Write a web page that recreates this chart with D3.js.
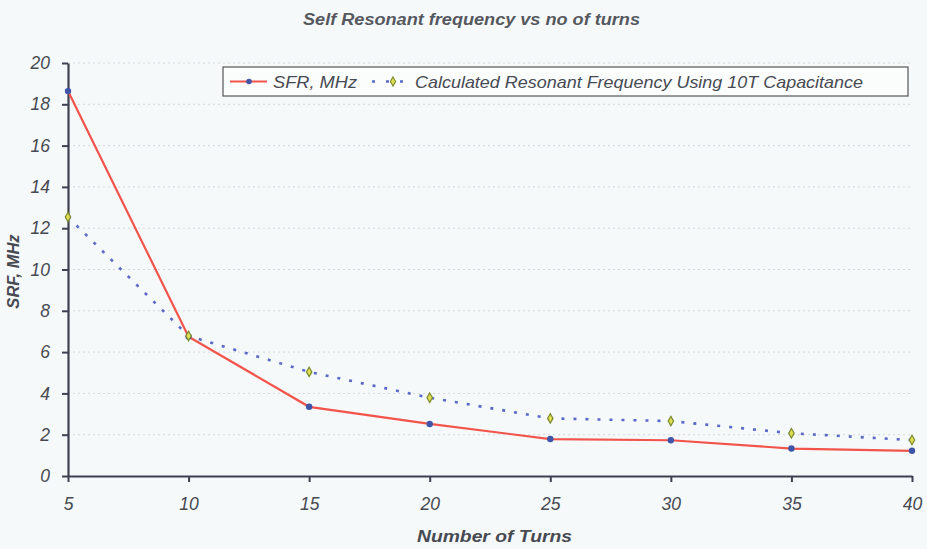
<!DOCTYPE html>
<html><head><meta charset="utf-8">
<script src="https://cdn.jsdelivr.net/npm/d3@7"></script>
<style>
body{margin:0;background:#f6f9fa;}
svg{display:block;font-family:"Liberation Sans",Arial,sans-serif;}
</style></head>
<body><svg id="c" width="927" height="549"></svg>
<script>
const turns = [5, 10, 15, 20, 25, 30, 35, 40];
const sfr = [18.64, 6.75, 3.35, 2.52, 1.79, 1.73, 1.33, 1.22];
const calc = [12.54, 6.78, 5.04, 3.79, 2.79, 2.66, 2.07, 1.74];
const yTicks = [0, 2, 4, 6, 8, 10, 12, 14, 16, 18, 20];
const xTicks = [5, 10, 15, 20, 25, 30, 35, 40];
const seriesNames = ["SFR, MHz", "Calculated Resonant Frequency Using 10T Capacitance"];

const svg = d3.select("#c");
const m = {l: 68, r: 15, t: 63, b: 73};
const W = 927, H = 549;
const x = d3.scaleLinear().domain([5, 40]).range([m.l, W - m.r]);
const y = d3.scaleLinear().domain([0, 20]).range([H - m.b, m.t]);
const ink = "#474a52";

svg.append("rect").attr("width", W).attr("height", H).attr("fill", "#f6f9fa");

// gridlines
svg.append("g").selectAll("line").data(yTicks.filter(d => d > 0)).join("line")
  .attr("x1", m.l).attr("x2", W - m.r).attr("y1", d => y(d)).attr("y2", d => y(d))
  .attr("stroke", "#d3d7db").attr("stroke-width", 1).attr("stroke-dasharray", "2,3");

// axes
const ya = svg.append("g").attr("transform", `translate(${m.l},0)`)
  .call(d3.axisLeft(y).tickValues(yTicks).tickSize(6).tickSizeOuter(0).tickPadding(12));
const xa = svg.append("g").attr("transform", `translate(0,${H - m.b})`)
  .call(d3.axisBottom(x).tickValues(xTicks).tickSize(6).tickSizeOuter(0).tickPadding(12));
[ya, xa].forEach(a => {
  a.select(".domain").attr("stroke", "#3d4150").attr("stroke-width", 2.2);
  a.selectAll(".tick line").attr("stroke", "#3d4150").attr("stroke-width", 2);
  a.selectAll("text").attr("font-size", 17.5).attr("font-style", "italic")
    .attr("fill", ink).attr("font-family", "Liberation Sans, Arial, sans-serif");
});
xa.selectAll("text").attr("dy", "0.9em");

// lines
const line = d3.line().x((d, i) => x(turns[i])).y(d => y(d));
svg.append("path").datum(calc).attr("d", line).attr("fill", "none")
  .attr("stroke", "#5a68c8").attr("stroke-width", 2.6).attr("stroke-dasharray", "3,9");
svg.append("path").datum(sfr).attr("d", line).attr("fill", "none")
  .attr("stroke", "#f2544c").attr("stroke-width", 2.2);

svg.append("g").selectAll("circle").data(sfr).join("circle")
  .attr("cx", (d, i) => x(turns[i])).attr("cy", d => y(d)).attr("r", 3.2)
  .attr("fill", "#3f55a8");
svg.append("g").selectAll("path").data(calc).join("path")
  .attr("transform", (d, i) => `translate(${x(turns[i])},${y(d)})`)
  .attr("d", d3.symbol(d3.symbolDiamond, 26)())
  .attr("fill", "#dede50").attr("stroke", "#7a8a30").attr("stroke-width", 1.2);

// legend
const lg = svg.append("g");
lg.append("rect").attr("x", 223).attr("y", 67).attr("width", 685).attr("height", 29)
  .attr("fill", "#fbfdfd").attr("stroke", "#555").attr("stroke-width", 1.2);
lg.append("line").attr("x1", 230).attr("x2", 267).attr("y1", 81.5).attr("y2", 81.5)
  .attr("stroke", "#f2544c").attr("stroke-width", 2);
lg.append("circle").attr("cx", 249).attr("cy", 81.5).attr("r", 2.8).attr("fill", "#3f55a8");
lg.append("text").attr("x", 273).attr("y", 88).text(seriesNames[0])
  .attr("font-size", 17).attr("font-style", "italic").attr("fill", ink)
  .attr("textLength", 84).attr("lengthAdjust", "spacingAndGlyphs");
lg.append("line").attr("x1", 372).attr("x2", 404).attr("y1", 81.5).attr("y2", 81.5)
  .attr("stroke", "#5a68c8").attr("stroke-width", 2.4).attr("stroke-dasharray", "3,11");
lg.append("path").attr("transform", "translate(393,81.5)")
  .attr("d", d3.symbol(d3.symbolDiamond, 24)())
  .attr("fill", "#dede50").attr("stroke", "#7a8a30").attr("stroke-width", 1.1);
lg.append("text").attr("x", 415).attr("y", 88).text(seriesNames[1])
  .attr("font-size", 17).attr("font-style", "italic").attr("fill", ink)
  .attr("textLength", 448).attr("lengthAdjust", "spacingAndGlyphs");

// titles
svg.append("text").attr("x", 303).attr("y", 25)
  .text("Self Resonant frequency vs no of turns")
  .attr("font-size", 16).attr("font-weight", "bold").attr("font-style", "italic").attr("fill", "#55585e")
  .attr("textLength", 337).attr("lengthAdjust", "spacingAndGlyphs");
svg.append("text").attr("x", 417).attr("y", 542)
  .text("Number of Turns")
  .attr("font-size", 17).attr("font-weight", "bold").attr("font-style", "italic").attr("fill", ink)
  .attr("textLength", 155).attr("lengthAdjust", "spacingAndGlyphs");
svg.append("text").attr("transform", `translate(19,${y(10) + 2}) rotate(-90)`).attr("text-anchor", "middle")
  .text("SRF, MHz")
  .attr("font-size", 16.5).attr("font-weight", "bold").attr("font-style", "italic").attr("fill", ink);
</script></body></html>
